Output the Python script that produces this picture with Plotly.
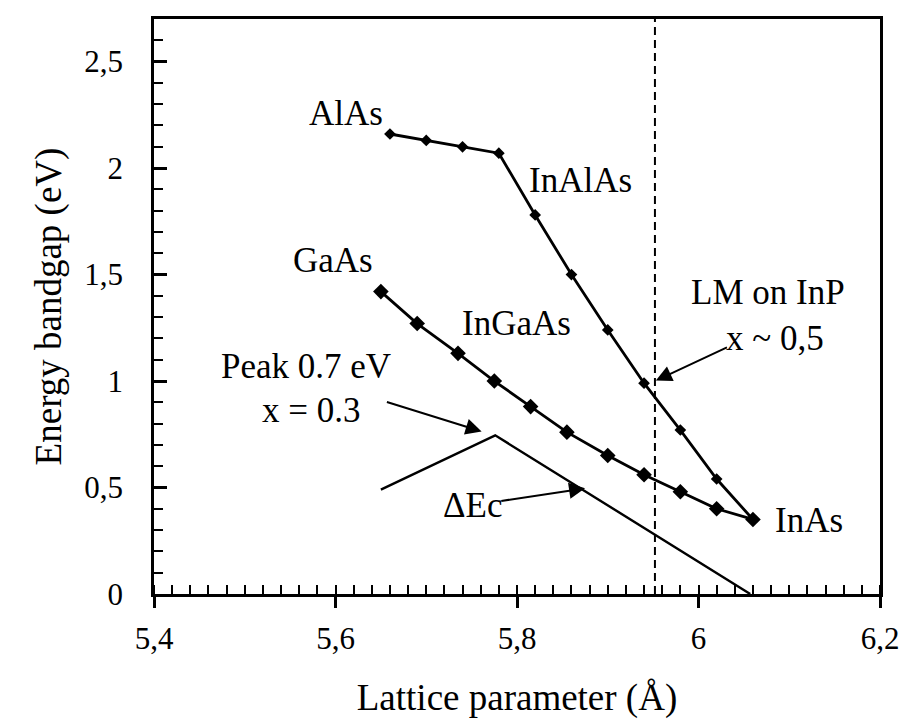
import plotly.graph_objects as go

# InAlAs branch (AlAs -> InAs)
inalas_x = [5.66, 5.70, 5.74, 5.78, 5.82, 5.86, 5.90, 5.94, 5.98, 6.02, 6.06]
inalas_y = [2.16, 2.13, 2.10, 2.07, 1.78, 1.50, 1.24, 0.99, 0.77, 0.54, 0.35]

# InGaAs branch (GaAs -> InAs)
ingaas_x = [5.65, 5.69, 5.735, 5.775, 5.815, 5.855, 5.90, 5.94, 5.98, 6.02, 6.06]
ingaas_y = [1.42, 1.27, 1.13, 1.00, 0.88, 0.76, 0.65, 0.56, 0.48, 0.40, 0.35]

# Conduction band offset curve
dec_x = [5.65, 5.776, 6.057]
dec_y = [0.49, 0.745, 0.0]

# lattice match on InP
lm_x = 5.952

# text labels: (text, x, y)
labels = [
    ("AlAs", 5.612, 2.257),
    ("InAlAs", 5.870, 1.943),
    ("GaAs", 5.597, 1.564),
    ("InGaAs", 5.799, 1.269),
    ("LM on InP", 6.077, 1.414),
    ("x ~ 0,5", 6.084, 1.199),
    ("Peak 0.7 eV", 5.567, 1.067),
    ("x = 0.3", 5.573, 0.861),
    ("\u0394Ec", 5.751, 0.417),
    ("InAs", 6.122, 0.346),
]

# arrows: (head x, head y, tail x, tail y)
arrows = [
    (5.953, 1.002, 6.033, 1.161),
    (5.761, 0.763, 5.655, 0.904),
    (5.875, 0.496, 5.781, 0.436),
]

FONT = "Liberation Serif"

fig = go.Figure()
fig.add_trace(go.Scatter(x=[lm_x, lm_x], y=[0, 2.7], mode="lines",
                         line=dict(color="black", width=2, dash="8px,5px"),
                         showlegend=False))
fig.add_trace(go.Scatter(x=dec_x, y=dec_y, mode="lines",
                         line=dict(color="black", width=2.4), showlegend=False))
fig.add_trace(go.Scatter(x=inalas_x, y=inalas_y, mode="lines+markers",
                         line=dict(color="black", width=2.8),
                         marker=dict(symbol="diamond", size=9, color="black"),
                         showlegend=False))
fig.add_trace(go.Scatter(x=ingaas_x, y=ingaas_y, mode="lines+markers",
                         line=dict(color="black", width=2.8),
                         marker=dict(symbol="diamond", size=12, color="black"),
                         showlegend=False))

for t, x, y in labels:
    fig.add_annotation(x=x, y=y, text=t, showarrow=False,
                       font=dict(family=FONT, size=35, color="black"))

for hx, hy, tx, ty in arrows:
    fig.add_annotation(x=hx, y=hy, ax=tx, ay=ty, xref="x", yref="y",
                       axref="x", ayref="y", text="", showarrow=True,
                       arrowhead=2, arrowsize=1.6, arrowwidth=2,
                       arrowcolor="black")

fig.update_layout(
    width=907, height=722,
    margin=dict(l=146, r=35, t=11, b=136),
    paper_bgcolor="white", plot_bgcolor="white",
    separators=",.",
    font=dict(family=FONT, color="black"),
    showlegend=False,
    xaxis=dict(
        range=[5.4, 6.2], tick0=5.4, dtick=0.2, showgrid=False,
        zeroline=False, automargin=False,
        showline=True, linecolor="black", linewidth=2.5, mirror=True,
        ticks="outside", ticklen=11, tickwidth=2.6, tickcolor="black",
        minor=dict(tick0=5.4, dtick=0.02, ticks="inside", ticklen=9,
                   tickwidth=2.2, tickcolor="black", showgrid=False),
        tickfont=dict(family=FONT, size=31, color="black"),
        ticklabelstandoff=4,
        title=dict(text="Lattice parameter (\u00c5)", standoff=30,
                   font=dict(family=FONT, size=37, color="black")),
    ),
    yaxis=dict(
        range=[0, 2.7], tick0=0, dtick=0.5, showgrid=False, zeroline=False,
        automargin=False,
        showline=True, linecolor="black", linewidth=2.5, mirror=True,
        ticks="inside", ticklen=13, tickwidth=2.8, tickcolor="black",
        minor=dict(tick0=0, dtick=0.1, ticks="inside", ticklen=9,
                   tickwidth=2.2, tickcolor="black", showgrid=False),
        tickfont=dict(family=FONT, size=31, color="black"),
        ticklabelstandoff=22,
        title=dict(text="Energy bandgap (eV)", standoff=12,
                   font=dict(family=FONT, size=37, color="black")),
    ),
)

fig.write_html("out.html")
